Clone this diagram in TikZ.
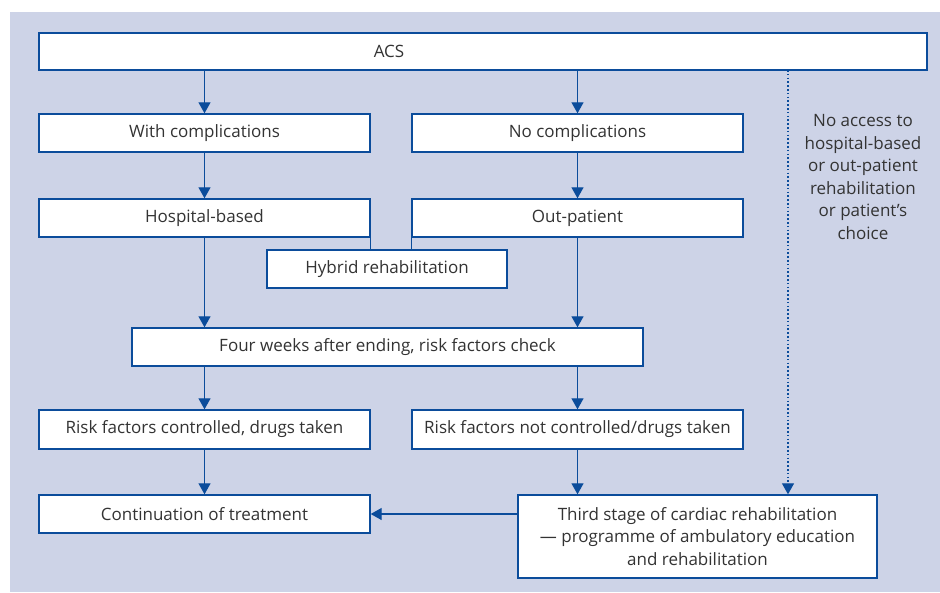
\documentclass[tikz,border=0pt]{standalone}
\usepackage{fontspec}
\setmainfont{Open Sans}
\usetikzlibrary{arrows.meta}
\definecolor{bgc}{HTML}{CDD3E7}
\definecolor{bluec}{HTML}{0B4C9B}
\definecolor{txtc}{HTML}{333333}
\tikzset{
  box/.style={draw=bluec, line width=1.4pt, fill=white, rectangle, inner sep=0pt,
    text=txtc, font=\fontsize{17}{22.5}\selectfont, align=center},
  lbl/.style={text=txtc, font=\fontsize{17}{22.5}\selectfont, align=center, inner sep=0pt},
  arr/.style={draw=bluec, line width=1.3pt, -{Triangle[width=12pt,length=11pt]}},
  conn/.style={draw=bluec, line width=1.3pt},
  dotline/.style={arr, dash pattern=on 1.6pt off 2.2pt}
}
\begin{document}
\begin{tikzpicture}[x=1pt,y=-1pt]
\useasboundingbox (0,0) rectangle (940,592);
\fill[bgc] (10,12) rectangle (940,592);
\node[box, minimum width=888, minimum height=37] (acs) at (483,51.5) {};
\node[lbl] (acslbl) at (389,51.5) {ACS};
\node[box, minimum width=331, minimum height=38] (withc) at (204.5,133) {With complications};
\node[box, minimum width=331, minimum height=38] (noc) at (577.5,133) {No complications};
\node[box, minimum width=331, minimum height=38] (hosp) at (204.5,218) {Hospital-based};
\node[box, minimum width=331, minimum height=38] (outp) at (577.5,218) {Out-patient};
\node[box, minimum width=240, minimum height=38] (hybrid) at (387,269) {Hybrid rehabilitation};
\node[box, minimum width=511, minimum height=38] (four) at (387.5,347) {Four weeks after ending, risk factors check};
\node[box, minimum width=331, minimum height=39] (rc) at (204.5,429.5) {Risk factors controlled, drugs taken};
\node[box, minimum width=331, minimum height=39] (rnc) at (577.5,429.5) {Risk factors not controlled/drugs taken};
\node[box, minimum width=331, minimum height=38] (cont) at (204.5,514) {Continuation of treatment};
\node[box, minimum width=359, minimum height=83] (third) at (697.5,536.5) {Third stage of cardiac rehabilitation\\--- programme of ambulatory education\\and rehabilitation};
\node[lbl] (note) at (863,177) {No access to\\hospital-based\\or out-patient\\rehabilitation\\or patient’s\\choice};
\coordinate (dtop) at (788,70);
\draw[arr] (withc.north |- acs.south) -- (withc.north);
\draw[arr] (noc.north |- acs.south) -- (noc.north);
\draw[arr] (withc.south) -- (hosp.north);
\draw[arr] (noc.south) -- (outp.north);
\draw[arr] (hosp.south) -- (hosp.south |- four.north);
\draw[arr] (outp.south) -- (outp.south |- four.north);
\draw[conn] (hosp.south east) -- (hosp.south east |- hybrid.north);
\draw[conn] (outp.south west) -- (outp.south west |- hybrid.north);
\draw[arr] (rc.north |- four.south) -- (rc.north);
\draw[arr] (rnc.north |- four.south) -- (rnc.north);
\draw[arr] (rc.south) -- (cont.north);
\draw[arr] (rnc.south) -- (rnc.south |- third.north);
\draw[arr] (cont.east -| third.west) -- (cont.east);
\draw[dotline] (dtop) -- (dtop |- third.north);
\end{tikzpicture}
\end{document}
